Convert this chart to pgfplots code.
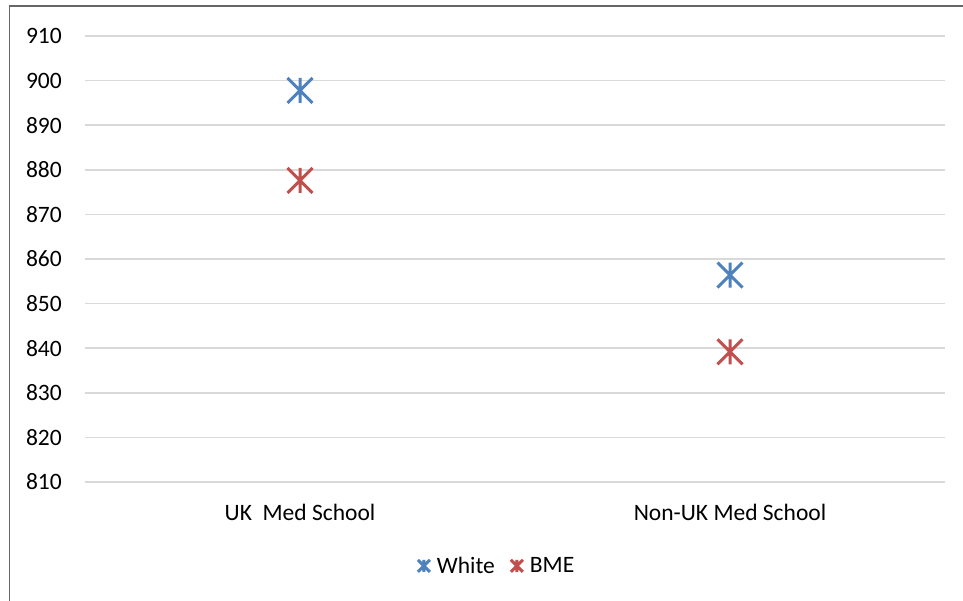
\documentclass[border=0pt]{standalone}
\usepackage{pgfplots}
\pgfplotsset{compat=1.18}
\usepackage{fontspec}
\setmainfont{Carlito}
\definecolor{cblue}{HTML}{4F81BD}
\definecolor{cred}{HTML}{C0504D}
\definecolor{cgrid}{HTML}{D9D9D9}
\pgfdeclareplotmark{xstar}{%
  \pgfpathmoveto{\pgfqpoint{0pt}{-\pgfplotmarksize}}\pgfpathlineto{\pgfqpoint{0pt}{\pgfplotmarksize}}%
  \pgfpathmoveto{\pgfqpoint{-\pgfplotmarksize}{-\pgfplotmarksize}}\pgfpathlineto{\pgfqpoint{\pgfplotmarksize}{\pgfplotmarksize}}%
  \pgfpathmoveto{\pgfqpoint{-\pgfplotmarksize}{\pgfplotmarksize}}\pgfpathlineto{\pgfqpoint{\pgfplotmarksize}{-\pgfplotmarksize}}%
  \pgfusepathqstroke}
\begin{document}
\begin{tikzpicture}[x=1pt,y=1pt]
\useasboundingbox (0,0) rectangle (963,601);
\draw[black!60, line width=1.6pt] (9.5,-10) -- (9.5,595) -- (975,595);
\begin{axis}[
  at={(85pt,119pt)}, anchor=south west,
  scale only axis, width=860pt, height=446pt,
  xmin=-0.5, xmax=1.5, ymin=810, ymax=910,
  ytick={810,820,...,910},
  xtick={0,1}, xticklabels={UK\ \ Med School, Non-UK Med School},
  ymajorgrids, grid style={cgrid, line width=1.5pt},
  axis line style={draw=none}, major tick length=0pt, tick style={draw=none},
  /pgf/number format/assume math mode=true,
  tick label style={font=\fontsize{23.5}{28}\selectfont, inner sep=0pt},
  yticklabel style={anchor=east, xshift=-23pt},
  xticklabel style={anchor=base, yshift=-39pt},
  legend style={draw=none, fill=none, at={(0.478,-0.188)}, anchor=center,
    font=\fontsize{23.5}{28}\selectfont, legend columns=-1,
    /tikz/every even column/.append style={column sep=16pt},
    nodes={inner sep=0pt, anchor=west}},
  legend image code/.code={\draw[#1, mark size=6pt, line width=3pt] plot coordinates {(0pt,0pt)};},
  clip=false,
]
\addplot[only marks, mark=xstar, mark size=12.5pt, line width=3pt, color=cblue] coordinates {(0,897.8) (1,856.4)};
\addlegendentry{\hspace{7pt}White}
\addplot[only marks, mark=xstar, mark size=12.5pt, line width=3pt, color=cred] coordinates {(0,877.6) (1,839.2)};
\addlegendentry{\hspace{7pt}BME}
\end{axis}
\end{tikzpicture}
\end{document}
